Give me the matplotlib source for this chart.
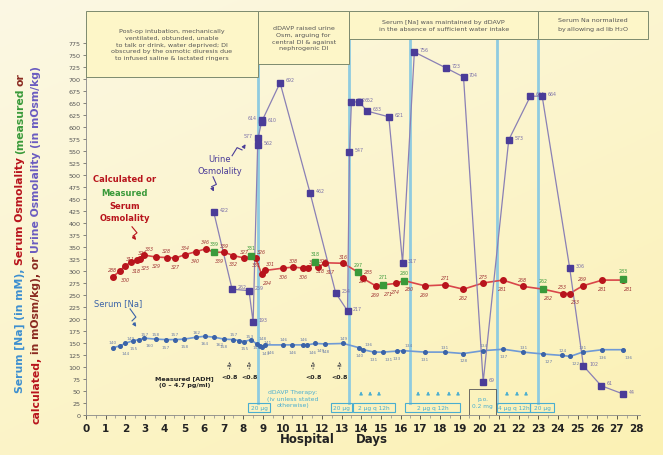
import numpy as np
import matplotlib
matplotlib.use("Agg")
import matplotlib.pyplot as plt
from matplotlib.patches import Rectangle

# ---- data ----
na_days = [1.36, 1.73, 1.98, 2.4, 2.71, 2.97, 3.56, 4.07, 4.53, 5.0, 5.6, 6.05, 6.53, 7.02,
           7.49, 7.8, 8.05, 8.39, 8.68, 8.85, 8.93, 9.1, 10.04, 10.5, 11.05, 11.26, 11.65,
           12.16, 13.09, 13.9, 14.1, 14.65, 15.09, 15.8, 16.14, 17.24, 18.26, 19.19, 20.2,
           21.23, 22.24, 23.26, 24.23, 24.62, 25.26, 26.26, 27.33]
na_vals = [140, 144, 149, 155, 157, 160, 158, 157, 157, 158, 162, 164, 162, 158,
           157, 155, 153, 157, 148, 143, 141, 146, 146, 146, 146, 146, 149,
           148, 149, 140, 136, 131, 131, 133, 134, 131, 131, 128, 134,
           137, 131, 127, 124, 122, 131, 136, 136]

osm_days = [1.36, 1.73, 1.98, 2.3, 2.58, 2.75, 2.97, 3.56, 4.1, 4.55, 5.04, 5.58, 6.08, 6.53,
            7.04, 7.49, 8.05, 8.39, 8.63, 8.93, 9.1, 10.04, 10.55, 11.05, 11.28, 11.65, 11.82,
            12.16, 13.09, 13.85, 14.07, 14.73, 15.09, 15.75, 16.17, 17.24, 18.26, 19.19, 20.2,
            21.2, 22.2, 23.26, 24.25, 24.6, 25.26, 26.26, 27.33]
osm_vals = [288, 300, 311, 318, 323, 325, 333, 329, 328, 327, 334, 340, 346, 339,
            339, 332, 327, 331, 326, 294, 301, 306, 308, 306, 306, 318, 308,
            317, 316, 297, 285, 269, 271, 274, 280, 269, 271, 262, 275,
            281, 268, 262, 253, 253, 269, 281, 281]

meas_days = [6.53, 8.39, 11.65, 13.85, 15.09, 16.17, 23.26, 27.33]
meas_vals = [339, 331, 318, 297, 271, 280, 262, 283]

urine_days = [6.5, 7.43, 8.29, 8.5, 8.73, 8.75, 8.93, 8.97, 9.87, 11.4, 12.7, 13.3, 13.4,
              13.5, 13.9, 14.3, 15.4, 16.1, 16.7, 18.3, 19.2, 20.2, 21.5, 22.6, 23.2, 24.6,
              25.3, 26.2, 27.3]
urine_vals = [422, 262, 259, 193, 562, 577, 610, 614, 692, 462, 254, 217, 547,
              652, 652, 633, 621, 317, 756, 723, 704, 69, 573, 664, 664, 306,
              102, 61, 44]

adh_days = [7.3, 8.3, 11.55, 12.9]
adh_text = ["<0.8", "<0.8", "<0.8", "<0.8"]

ddavp_days = [8.75, 13.38, 16.48, 20.9, 23.0]
dose_boxes = [(8.24, 9.36, "20 μg"), (12.46, 13.53, "20 μg"), (13.58, 15.72, "2 μg q 12h"),
              (16.23, 19.02, "2 μg q 12h"), (20.9, 22.58, "4 μg q 12h"), (22.58, 23.8, "20 μg")]
dose_arrows = [13.99, 14.45, 14.9, 16.89, 17.4, 17.9, 18.46, 18.92, 21.41, 21.92, 22.38]

phase_boxes = [
    (0.0, 8.75, 704, "Post-op intubation, mechanically\nventilated, obtunded, unable\n"
     "to talk or drink, water deprived; DI\nobscured by the osmotic diuresis due\n"
     "to infused saline & lactated ringers"),
    (8.75, 13.38, 731, "dDAVP raised urine\nOsm, arguing for\ncentral DI & against\nnephrogenic DI"),
    (13.38, 23.0, 783, "Serum [Na] was maintained by dDAVP\nin the absence of sufficient water intake"),
    (23.0, 28.6, 783, "Serum Na normalized\nby allowing ad lib H$_2$O"),
]

C_NA, C_NA_L = "#3b63a8", "#6f9ad6"
C_OSM, C_OSM_L = "#b8141c", "#d9464a"
C_MEAS = "#3a9a3a"
C_UR, C_UR_L = "#4a3c98", "#8a80b5"
C_VLINE = "#8fcbe0"
C_BOX = "#4aaed0"
INK = "#222222"

fig = plt.figure(figsize=(6.63, 4.56), dpi=100)

# pale yellow background gradient
bg = fig.add_axes([0, 0, 1, 1], zorder=-10)
yy, xx = np.mgrid[0:1:200j, 0:1:200j]
t = np.clip(0.6 * (1 - yy) + 0.4 * xx, 0, 1)
top = np.array([252, 241, 180]) / 255
bot = np.array([251, 248, 228]) / 255
img = bot[None, None, :] * (1 - t[..., None]) + top[None, None, :] * t[..., None]
bg.imshow(img, aspect="auto", extent=[0, 1, 0, 1], origin="lower")
bg.axis("off")

ax = fig.add_axes([86 / 663, 40 / 456, (639.5 - 86) / 663, (416 - 39.1) / 456])
ax.patch.set_alpha(0)
ax.set_xlim(0, 28.15)
ax.set_ylim(0, 785)
for s in ("top", "right"):
    ax.spines[s].set_visible(False)
ax.spines["left"].set_bounds(0, 775)
ax.spines["left"].set_color("#888888")
ax.spines["bottom"].set_color("#888888")
ax.spines["left"].set_linewidth(0.6)
ax.spines["bottom"].set_linewidth(0.6)
ax.set_yticks(np.arange(0, 776, 25))
ax.set_xticks(np.arange(0, 29, 1))
ax.set_xticks(np.arange(0.5, 28, 1), minor=True)
ax.tick_params(axis="y", labelsize=4.6, colors="#555555", length=2, width=0.5, pad=2)
ax.tick_params(axis="x", labelsize=7.5, colors=INK, length=3, width=0.5, pad=3)
ax.tick_params(axis="x", which="minor", length=2, width=0.5, colors="#888888")
for lb in ax.get_xticklabels():
    lb.set_fontweight("bold")

# vertical dDAVP lines
for d in ddavp_days:
    ax.plot([d, d], [25, 783], color=C_VLINE, lw=2.0, zorder=1, clip_on=False)

# series
ax.plot(na_days, na_vals, color=C_NA_L, lw=1.2, zorder=3)
ax.plot(na_days, na_vals, "o", color=C_NA, ms=2.6, zorder=4)
ax.plot(osm_days, osm_vals, color=C_OSM_L, lw=1.2, zorder=3)
ax.plot(osm_days, osm_vals, "o", color=C_OSM, ms=4, zorder=4)
ax.plot(meas_days, meas_vals, "s", color=C_MEAS, ms=3.8, zorder=5)
ax.plot(urine_days, urine_vals, color=C_UR_L, lw=0.9, zorder=3)
ax.plot(urine_days, urine_vals, "s", color=C_UR, ms=4, zorder=4)


# tiny data labels; nudge sideways when points crowd together
def labels(days, vals, color, above, below, size=3.4, **kw):
    prev = -9
    for i, (d, v) in enumerate(zip(days, vals)):
        dx = 4 if d - prev < 0.4 else 0
        off = above if i % 2 == 0 else below
        if d in meas_days and color != C_MEAS:
            off, dx = below, 4
        ax.annotate(str(v), (d, v), xytext=(dx, off), textcoords="offset points",
                    ha="center", va="center", fontsize=size, color=color, **kw)
        prev = d


labels(na_days, na_vals, "#6c7fa8", 4, -5, size=3.1)
labels(osm_days, osm_vals, "#a03434", 5, -6, style="italic")
labels(meas_days, meas_vals, C_MEAS, 6, 6)
for i, (d, v) in enumerate(zip(urine_days, urine_vals)):
    side = -1 if (i % 2 and 8.6 < d < 9.0) else 1
    ax.annotate(str(v), (d, v), xytext=(4 * side, 2), textcoords="offset points",
                ha="left" if side > 0 else "right", va="center", fontsize=3.4,
                color="#7a70a8")


def bolt(x0, y0, x1, y1, color):
    # zig-zag "lightning" pointer with an arrow head
    p0 = ax.transData.transform((x0, y0))
    p1 = ax.transData.transform((x1, y1))
    v = p1 - p0
    n = np.array([-v[1], v[0]]) / np.hypot(*v)
    pts = [p0, p0 + 0.45 * v + 2.5 * n, p0 + 0.55 * v - 2.5 * n, p1]
    pts = ax.transData.inverted().transform(np.array(pts))
    ax.plot(pts[:3, 0], pts[:3, 1], color=color, lw=0.8, zorder=6)
    ax.annotate("", xy=pts[3], xytext=pts[2],
                arrowprops=dict(arrowstyle="-|>", color=color, lw=0.8, mutation_scale=5))


ax.text(6.8, 522, "Urine\nOsmolality", ha="center", va="center", fontsize=6,
        color=C_UR, linespacing=1.4)
bolt(7.43, 540, 8.19, 569, C_UR)
bolt(6.46, 496, 6.56, 460, C_UR)

ax.text(1.98, 492, "Calculated or", ha="center", va="center", fontsize=6,
        color=C_OSM, fontweight="bold")
ax.text(1.98, 464, "Measured", ha="center", va="center", fontsize=6,
        color=C_MEAS, fontweight="bold")
ax.text(1.98, 424, "Serum\nOsmolality", ha="center", va="center", fontsize=6,
        color=C_OSM, fontweight="bold", linespacing=1.5)
bolt(2.34, 392, 2.64, 360, C_OSM)

ax.text(1.63, 235, "Serum [Na]", ha="center", va="center", fontsize=6, color=C_NA)
bolt(2.24, 221, 2.64, 179, C_NA)

# ADH measurements
ax.text(5.0, 71, "Measured [ADH]\n(0 – 4.7 pg/ml)", ha="center", va="center",
        fontsize=4.6, color=INK, fontweight="bold", linespacing=1.5)
for d, s in zip(adh_days, adh_text):
    ax.annotate("", xy=(d, 117), xytext=(d, 90),
                arrowprops=dict(arrowstyle="-|>", color="#555555", lw=0.7, ls=":",
                                mutation_scale=6, fc="none"))
    ax.text(d, 80, s, ha="center", va="center", fontsize=4.6, color=INK, fontweight="bold")

# dDAVP dose boxes
for x0, x1, s in dose_boxes:
    ax.add_patch(Rectangle((x0, 6), x1 - x0, 19, fill=False, ec=C_BOX, lw=0.8, zorder=6))
    ax.text((x0 + x1) / 2, 15.5, s, ha="center", va="center", fontsize=4.2, color=C_BOX,
            zorder=6)
ax.add_patch(Rectangle((19.48, 0), 1.37, 54, fill=False, ec="#555555", lw=0.6, zorder=6))
ax.text(20.17, 27, "p.o.\n0.2 mg", ha="center", va="center", fontsize=4.2, color=C_BOX,
        linespacing=1.6)
ax.text(10.53, 35, "dDAVP Therapy:\n(iv unless stated\notherwise)", ha="center",
        va="center", fontsize=4.4, color=C_BOX, linespacing=1.4)
for d in dose_arrows:
    ax.annotate("", xy=(d, 55), xytext=(d, 36),
                arrowprops=dict(arrowstyle="-|>", color=C_BOX, lw=0.6, mutation_scale=5))

# phase boxes above the plot
for x0, x1, yb, s in phase_boxes:
    ax.add_patch(Rectangle((x0, yb), x1 - x0, 841 - yb, fc="#fdf6c8", ec="#7d8a6e",
                           lw=0.7, clip_on=False, zorder=7))
    ax.text((x0 + x1) / 2, (yb + 841) / 2, s, ha="center", va="center", fontsize=4.6,
            color="#555555", linespacing=1.45, clip_on=False, zorder=8)

# x label
fig.text(307 / 663, 1 - 440 / 456, "Hospital", ha="center", va="center", fontsize=8.5,
         fontweight="bold", color=INK)
fig.text(372 / 663, 1 - 440 / 456, "Days", ha="center", va="center", fontsize=8.5,
         fontweight="bold", color=INK)


# multi-coloured rotated y label
def vlabel(x, yc, parts, size):
    r = fig.canvas.get_renderer()
    items = [fig.text(x, 0, s, color=c, rotation=90, ha="center", va="bottom",
                      fontsize=size, fontweight="bold") for s, c in parts]
    gap = 3 / fig.bbox.height
    lens = [it.get_window_extent(r).height / fig.bbox.height for it in items]
    y = yc - (sum(lens) + gap * (len(items) - 1)) / 2
    for it, L in zip(items, lens):
        it.set_y(y)
        y += L + gap


fig.canvas.draw()
vlabel(20 / 663, 1 - 233 / 456,
       [("Serum [Na] (in mM),", "#3d8fd0"), ("Serum Osmolality", C_OSM),
        ("(measured", C_MEAS), ("or", "#8a2a20")], 7.8)
vlabel(36 / 663, 1 - 245 / 456,
       [("calculated,", C_OSM), ("in mOsm/kg), or", "#8a2a20"),
        ("Urine Osmolality (in mOsm/kg)", "#6a5cc0")], 7.8)

fig.savefig("out.png", dpi=100)
